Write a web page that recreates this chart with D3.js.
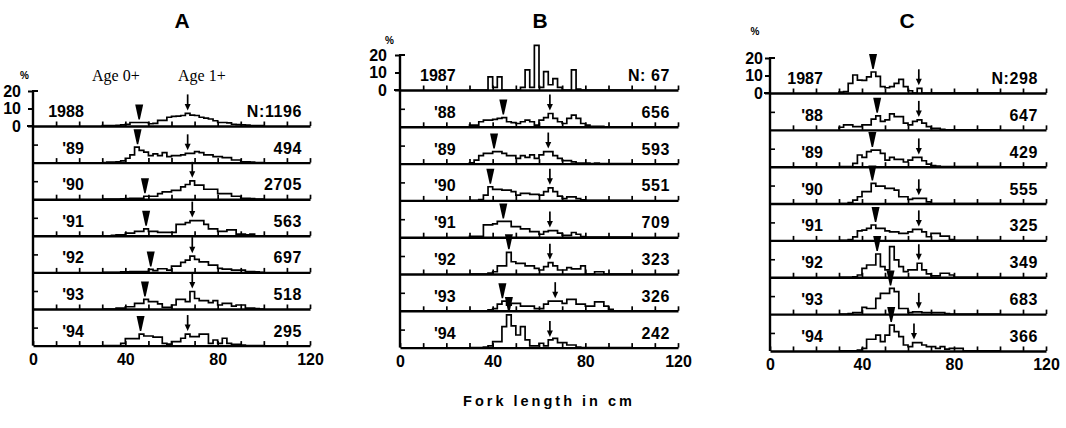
<!DOCTYPE html>
<html><head><meta charset="utf-8">
<script src="https://cdn.jsdelivr.net/npm/d3@7"></script>
<style>body{margin:0;background:#fff}svg{display:block}</style>
</head><body>
<script>
// ---------- DATA ----------
const binStart = 30;          // cm, left edge of first length class
const binWidth = 2;           // cm per length class
const xTickLabels = [0, 40, 80, 120];
const yTickLabels = [0, 10, 20];
const axisLabel = "Fork length in cm";
const ageLabels = ["Age 0+", "Age 1+"];

// Panel A
const yearsA = ["1988", "'89", "'90", "'91", "'92", "'93", "'94"];
const nA = ["N:1196", "494", "2705", "563", "697", "518", "295"];
const age0A = [46, 45.3, 48.5, 49, 51, 48.5, 46.6];
const age1A = [67, 67, 69, 69, 69, 69, 67];
const histA = [
  [0.2,0.2,0.3,0.4,0.6, 1,2,2,2,2, 1.3,1.5,3.2,3.2,5, 5.5,5.7,6,7.2,6.2, 6,5,4.5,4,3, 2,2,1.8,1,0.8, 0.6,0.5,0.3,0.2,0.2],
  [0,0.3,0.3,0.5,1, 2.5,4.4,8.8,7,6, 4,5,4,5.7,3.4, 4,4,4.4,5.3,5.3, 6.3,5.7,4.4,4.4,3.4, 3.4,2.8,2.8,1.5,1.5, 0.5,0.5,0.3,0,0],
  [0,0,0,0,0.2, 0.3,0.5,0.5,0.5,1.7, 1.7,1.7,3.2,4.2,4.2, 5,5,7,8.4,10.5, 8,8,5.7,5.7,5.7, 3.2,3.2,3.2,1.7,1.7, 0.5,0.5,0.3,0,0],
  [0,0,0.3,0.5,0.5, 1.5,1.5,2.5,2.5,4, 2.5,2.5,2,2,2, 2,6.5,6.5,7.5,8.7, 8.7,8.7,6.5,4,4, 2.5,2.5,3.4,3.4,1, 1,0.5,1,0,0],
  [0,0,0,0,0.3, 0.3,0.5,0.5,0.5,0.5, 1.7,1,2.1,2.1,1.3, 3.6,3.6,5.7,7,9.3, 7.4,6,6,4.2,4.2, 2.3,1.9,1.9,1.3,1.3, 1.3,0.5,0.5,0.3,0],
  [0,0,0,0.5,0.5, 1.3,1.3,3.2,3.2,5.5, 4.2,4.2,2.9,1,1, 2.3,5.5,5.5,4.2,10, 6,4.8,4.8,3.6,4.8, 2.3,3.2,3.2,1.7,2.3, 2.3,0.5,0.5,0.3,0],
  [0,0,0,0,1.3, 4,4,4,6.6,5.5, 5.5,4.8,4.8,1.3,0.8, 2.3,2.3,4.2,6.6,5.1, 5.1,6.6,6.6,1.3,3.2, 1.3,4.2,1.3,0.7,0.7, 0.3,0,0,0,0]
];

// Panel B
const yearsB = ["1987", "'88", "'89", "'90", "'91", "'92", "'93", "'94"];
const nB = ["N: 67", "656", "593", "551", "709", "323", "326", "242"];
const age0B = [null, 44.6, 40.6, 39, 44.6, 47, 44.2, 47];
const age1B = [null, 64.7, 64, 64.7, 64.7, 64.7, 67, 64.7];
const histB = [
  [0,0,0,0,7.5, 1.5,7.5,0,0,0, 0,1.5,11.5,1.5,25.5, 1.5,10.5,3,6.5,1.5, 0,0,11.5,0.5,0, 0,0,0,0,0, 0,0,0,0,0],
  [1,1,2.9,3.8,3.8, 4.2,4.8,5.3,2.9,2.4, 1.9,2.9,3.8,2.9,1, 3.8,5.3,7.6,4.8,2.9, 1.9,4.8,6.7,4.8,1.9, 1,0.3,0.3,0.3,0, 0,0,0,0,0],
  [0.5,2,4.6,5.9,5.9, 6.9,6.9,5.9,4.6,4.6, 3,4.6,3.6,5,3, 5,6.9,6.9,4.6,3, 1.7,1.7,1,0.3,0.3, 0.3,0,0.3,0,0, 0,0,0,0,0],
  [0,0,0.5,3,7.8, 6.3,6.3,5.9,5.9,5, 3,4,4,3.4,3.4, 3,5,7.2,5,2.5, 1,2,2,1,0.3, 0,0,0,0,0, 0,0,0,0,0],
  [0.5,0.5,0.5,7,7, 7.6,9,9,9,6, 6,4.8,4.8,3.2,3.2, 1.7,3.2,3.8,3.8,2.3, 1,1,2.7,1.7,0.3, 0,0,0,0,0, 0,0,0,0,0],
  [0,0,0,0,0.5, 1.3,4.6,4.6,12.4,7, 6.1,6.1,4.6,4.6,3.2, 2.3,4.2,6.5,4.6,2.3, 2.3,3.6,2.9,2.9,4.6, 0,0,1.3,1.3,0, 0,0,0,0,0],
  [0,0,0,0,0.5, 1.3,3.8,5.5,3.2,4.2, 4.2,2.7,2.7,2.7,1.3, 1.3,3.8,5.5,5.5,5.5, 4.2,6.5,6.5,3.8,3.8, 2.7,2.7,5.1,5.1,2.7, 0.8,0,0,0,0],
  [0,0,0,0.3,1, 3.4,3.4,12,18.7,12.4, 7.2,12,4.4,1,1, 2.5,1,4.4,5.3,2.9, 2.9,1.5,1.5,0.3,0, 0,0,0,0,0, 0,0,0,0,0]
];

// Panel C
const yearsC = ["1987", "'88", "'89", "'90", "'91", "'92", "'93", "'94"];
const nC = ["N:298", "647", "429", "555", "325", "349", "683", "366"];
const age0C = [44.8, 46.6, 44.5, 44.5, 45.9, 46.6, 52.4, 52.7];
const age1C = [64.7, 64.7, 64.7, 64.7, 64.7, 64.7, 64.7, 62.6];
const histC = [
  [0.5,0.8,5.5,10.3,7.4, 7.2,9.2,12,9.5,3.6, 3,3.6,5.5,7.8,3.6, 1.3,0,2.7,0,0, 0,0,0,0,0, 0,0,0,0,0, 0,0,0,0,0],
  [1.5,2.9,2.9,1.9,1.9, 2.9,2.9,6.1,8,4.8, 5.7,9.1,7.6,7.6,3.8, 2.9,4.8,5.7,3.8,1.9, 0.8,0.8,0.3,0,0, 0,0,0,0,0, 0,0,0,0,0],
  [0,0,0,1.9,6.7, 5.3,8.6,9.5,9.5,7.6, 3.8,5.3,4.2,4.2,2.7, 3.8,5.3,5.3,3.4,1.5, 0.6,0.3,0,0,0, 0,0,0,0,0, 0,0,0,0,0],
  [0,0,0.5,2,3.9, 6.8,6.8,11.5,10,10, 8.7,8.7,7.7,3.9,3.9, 2.4,3,3,3,1, 0,0,0,0,0, 0,0,0,0,0, 0,0,0,0,0],
  [0,0,0.5,2,5.5, 5.9,6.9,8.8,6.9,6.9, 5.5,4.9,4.9,4,4, 4.9,6.3,6.3,4.9,2.1, 4,4,2.5,2.5,0.5, 0,0,0,0,0, 0,0,0,0,0],
  [0,0,0,0.3,1.3, 5.1,7,7,13.3,6.1, 4.2,17.5,9.9,6.1,3.2, 4.2,4.2,8,4.2,1.9, 0.8,0.8,2.3,2.3,1.3, 0,0,0,0,0, 0,0,0,0,0],
  [0,0,0.3,0.8,0.8, 3.8,3.2,3.2,9,11.8, 11.8,14.7,12.8,3.2,3.2, 0.8,1.3,1.3,0.8,0.8, 0.8,0.8,0.8,0.3,0, 0,0,0,0,0, 0,0,0,0,0],
  [0,0,0,0,0.5, 1.5,6.7,6.7,9,5.3, 9,14.8,11,8.2,3.4, 2.5,4.8,4.8,3.4,2.5, 2.5,1.5,2.5,1,1.5, 1.5,1.5,0,0,0, 0,0,0,0,0]
];

// ---------- LAYOUT ----------
const panels = [
  {title:"A", years:yearsA, ns:nA, hist:histA, age0:age0A, age1:age1A,
   x0:33, x1:310, base0:126, step:36.6, titleX:182, yearCm:22, labGap:12, pct:[24.5,79]},
  {title:"B", years:yearsB, ns:nB, hist:histB, age0:age0B, age1:age1B,
   x0:400, x1:678, base0:90, step:36.8, titleX:540, yearCm:24, labGap:13, pct:[389.5,44]},
  {title:"C", years:yearsC, ns:nC, hist:histC, age0:age0C, age1:age1C,
   x0:770, x1:1046, base0:93, step:36.85, titleX:907, yearCm:23, labGap:7, pct:[755,35]}
];
const K = 1.75;            // px per percent
const SANS = "'Liberation Sans', Arial, sans-serif";
const FS = 16;

const svg = d3.select("body").append("svg").attr("width",1066).attr("height",428)
  .style("font-family", SANS);

panels.forEach(p => {
  const x = d3.scaleLinear().domain([0,120]).range([p.x0, p.x1]);
  const nRows = p.years.length;
  const baseY = i => p.base0 + i * p.step;
  const yRow = i => d3.scaleLinear().domain([0,20]).range([baseY(i), baseY(i) - 20*K]);
  const g = svg.append("g");

  // title
  g.append("text").attr("x", p.titleX).attr("y", 28).attr("text-anchor","middle")
    .attr("font-size", 21).attr("font-weight","bold").text(p.title);
  // percent sign
  g.append("text").attr("x", p.pct[0]).attr("y", p.pct[1]).attr("text-anchor","middle")
    .attr("font-size", 10).attr("font-weight","bold").text("%");

  // left vertical axis
  const y0 = yRow(0);
  g.append("line").attr("x1", x(0)).attr("x2", x(0)).attr("y1", y0(20)).attr("y2", baseY(nRows-1))
    .attr("stroke","#000").attr("stroke-width",2.4);
  g.append("line").attr("x1", x(0)-1).attr("x2", x(0)+5).attr("y1", y0(20)).attr("y2", y0(20))
    .attr("stroke","#000").attr("stroke-width",2);

  // y axis of first row
  const ya = g.append("g").attr("transform", `translate(${x(0)},0)`)
    .call(d3.axisLeft(y0).tickValues(yTickLabels).tickSize(5).tickPadding(p.labGap-5).tickFormat(d3.format("d")));
  ya.select(".domain").remove();
  ya.selectAll(".tick line").attr("stroke-width",2);
  ya.selectAll(".tick text").attr("font-size",FS).attr("font-weight","bold").attr("font-family",SANS).attr("fill","#000");

  for (let i = 0; i < nRows; i++) {
    const y = yRow(i);
    const by = baseY(i);
    const vals = p.hist[i];

    // inner 10% tick for lower rows
    if (i > 0) {
      g.append("line").attr("x1", x(0)).attr("x2", x(0)+5).attr("y1", y(10)).attr("y2", y(10))
        .attr("stroke","#000").attr("stroke-width",1.6);
    }

    // histogram outline
    const pts = [[binStart, 0]]
      .concat(vals.map((v, j) => [binStart + j*binWidth, v]))
      .concat([[binStart + vals.length*binWidth, 0]]);
    g.append("path").attr("d", d3.line().x(d => x(d[0])).y(d => y(d[1])).curve(d3.curveStepAfter)(pts))
      .attr("fill","none").attr("stroke","#000").attr("stroke-width",1.7).attr("stroke-linejoin","miter");

    // baseline axis with 10 cm ticks
    const last = i === nRows - 1;
    const xa = g.append("g").attr("transform", `translate(0,${by})`)
      .call(d3.axisBottom(x).tickValues(d3.range(10, 121, 10).concat(last ? [0] : []))
        .tickSize(-4.5).tickSizeOuter(0).tickPadding(8)
        .tickFormat(d => (last && xTickLabels.includes(d)) ? d : ""));
    xa.select(".domain").attr("stroke-width",2.4);
    xa.selectAll(".tick line").attr("stroke-width",1.7);
    xa.selectAll(".tick text").attr("font-size",FS).attr("font-weight","bold").attr("font-family",SANS).attr("fill","#000");
    if (i === 0) {
      g.append("line").attr("x1", x(0)-6).attr("x2", x(0)).attr("y1", by).attr("y2", by)
        .attr("stroke","#000").attr("stroke-width",2);
    }

    // labels
    g.append("text").attr("x", x(p.yearCm)).attr("y", by - 9).attr("text-anchor","end")
      .attr("font-size",FS).attr("font-weight","bold").text(p.years[i]);
    g.append("text").attr("x", x(120) - 8).attr("y", by - 9).attr("text-anchor","end")
      .attr("font-size",FS).attr("font-weight","bold").attr("letter-spacing",0.6).text(p.ns[i]);

    const valAt = cm => vals[Math.floor((cm - binStart) / binWidth)] || 0;

    // age 0 marker (filled wedge)
    const a0 = p.age0[i];
    if (a0 != null) {
      const tx = x(a0), ty = y(valAt(a0)) - 3;
      g.append("path").attr("d", `M${tx-4},${ty-15} L${tx+4},${ty-15} L${tx+0.7},${ty} L${tx-0.7},${ty} Z`)
        .attr("fill","#000");
    }
    // age 1 marker (thin arrow)
    const a1 = p.age1[i];
    if (a1 != null) {
      const tx = x(a1), ty = y(valAt(a1)) - 3;
      g.append("line").attr("x1", tx).attr("x2", tx).attr("y1", ty - 16).attr("y2", ty - 4)
        .attr("stroke","#000").attr("stroke-width",1.7);
      g.append("path").attr("d", `M${tx-3},${ty-6.5} L${tx+3},${ty-6.5} L${tx},${ty} Z`).attr("fill","#000");
    }
  }
});

// age class labels (panel A)
svg.append("text").attr("x", 92).attr("y", 80.5).attr("font-family","'Liberation Serif', serif")
  .attr("font-size", 16).text(ageLabels[0]);
svg.append("text").attr("x", 178).attr("y", 80.5).attr("font-family","'Liberation Serif', serif")
  .attr("font-size", 16).text(ageLabels[1]);

// shared x axis title
svg.append("text").attr("x", 549).attr("y", 406).attr("text-anchor","middle")
  .attr("font-size", 14.5).attr("font-weight","bold").attr("letter-spacing", 3).text(axisLabel);
</script>
</body></html>
